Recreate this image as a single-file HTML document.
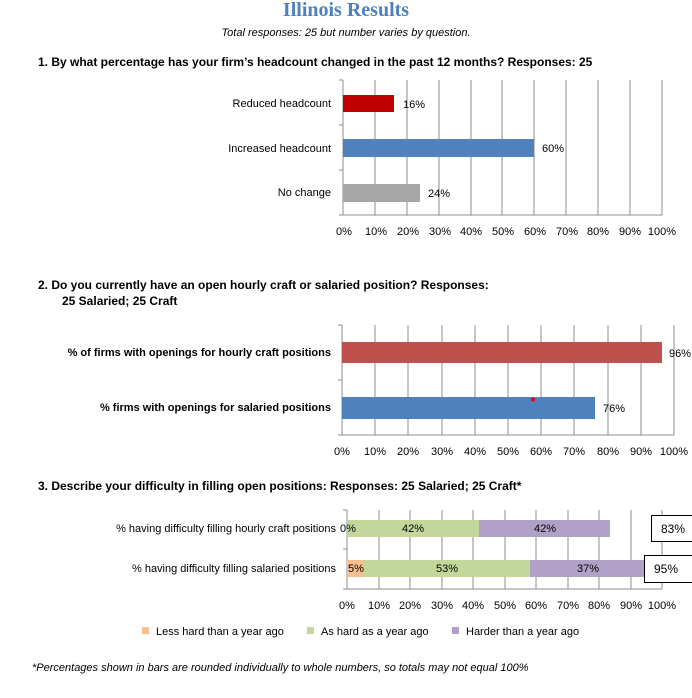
<!DOCTYPE html>
<html><head><meta charset="utf-8"><style>
body{margin:0;background:#fff;width:692px;height:698px;overflow:hidden}
svg{display:block}
text{font-family:"Liberation Sans",sans-serif;font-size:11px;fill:#000}
.b{font-weight:bold;font-size:12px}
.g{stroke:#8c8c8c;stroke-width:1}
</style></head><body>
<svg width="692" height="698" viewBox="0 0 692 698">
<text x="346" y="16" text-anchor="middle" style="font-family:'Liberation Serif',serif;font-size:20px;font-weight:bold;fill:#4f81bd">Illinois Results</text>
<text x="346" y="36" text-anchor="middle" style="font-style:italic;font-size:11px">Total responses: 25 but number varies by question.</text>

<!-- Chart 1 -->
<text x="38" y="66" class="b">1.   By what percentage has your firm’s headcount changed in the past 12 months? Responses: 25</text>
<g class="g">
<line x1="375" y1="80" x2="375" y2="215"/><line x1="407" y1="80" x2="407" y2="215"/><line x1="439" y1="80" x2="439" y2="215"/><line x1="471" y1="80" x2="471" y2="215"/><line x1="502" y1="80" x2="502" y2="215"/><line x1="534" y1="80" x2="534" y2="215"/><line x1="566" y1="80" x2="566" y2="215"/><line x1="598" y1="80" x2="598" y2="215"/><line x1="630" y1="80" x2="630" y2="215"/><line x1="662" y1="80" x2="662" y2="215"/>
<line x1="343" y1="80" x2="343" y2="215"/><line x1="343" y1="215" x2="662" y2="215"/>
<line x1="339" y1="80" x2="343" y2="80"/><line x1="339" y1="125" x2="343" y2="125"/><line x1="339" y1="170" x2="343" y2="170"/><line x1="339" y1="215" x2="343" y2="215"/>
</g>
<rect x="343" y="95" width="51" height="17" fill="#c00000"/>
<rect x="343" y="139" width="191" height="18" fill="#4f81bd"/>
<rect x="343" y="184" width="77" height="18" fill="#a6a6a6"/>
<text x="331" y="107" text-anchor="end">Reduced headcount</text>
<text x="331" y="152" text-anchor="end">Increased headcount</text>
<text x="331" y="196" text-anchor="end">No change</text>
<text x="403" y="108">16%</text><text x="542" y="152">60%</text><text x="428" y="197">24%</text>
<g text-anchor="middle">
<text x="344" y="235">0%</text><text x="376" y="235">10%</text><text x="408" y="235">20%</text><text x="440" y="235">30%</text><text x="471" y="235">40%</text><text x="503" y="235">50%</text><text x="535" y="235">60%</text><text x="567" y="235">70%</text><text x="598" y="235">80%</text><text x="630" y="235">90%</text><text x="662" y="235">100%</text>
</g>

<!-- Chart 2 -->
<text x="38" y="289" class="b">2.   Do you currently have an open hourly craft or salaried position?  Responses:</text>
<text x="62" y="305" class="b">25 Salaried; 25 Craft</text>
<g class="g">
<line x1="375" y1="325" x2="375" y2="435"/><line x1="408" y1="325" x2="408" y2="435"/><line x1="442" y1="325" x2="442" y2="435"/><line x1="475" y1="325" x2="475" y2="435"/><line x1="508" y1="325" x2="508" y2="435"/><line x1="541" y1="325" x2="541" y2="435"/><line x1="574" y1="325" x2="574" y2="435"/><line x1="608" y1="325" x2="608" y2="435"/><line x1="641" y1="325" x2="641" y2="435"/><line x1="674" y1="325" x2="674" y2="435"/>
<line x1="342" y1="325" x2="342" y2="435"/><line x1="342" y1="435" x2="674" y2="435"/>
<line x1="338" y1="325" x2="342" y2="325"/><line x1="338" y1="380" x2="342" y2="380"/><line x1="338" y1="435" x2="342" y2="435"/>
</g>
<rect x="342" y="342" width="320" height="21" fill="#c0504d"/>
<rect x="342" y="397" width="253" height="22" fill="#4f81bd"/>
<circle cx="533" cy="399.5" r="2" fill="#e00"/>
<text x="331" y="356" text-anchor="end" style="font-weight:bold">% of firms with openings for hourly craft positions</text>
<text x="331" y="411" text-anchor="end" style="font-weight:bold">% firms with openings for salaried positions</text>
<text x="669" y="357">96%</text><text x="603" y="412">76%</text>
<g text-anchor="middle">
<text x="342" y="455">0%</text><text x="375" y="455">10%</text><text x="408" y="455">20%</text><text x="442" y="455">30%</text><text x="475" y="455">40%</text><text x="508" y="455">50%</text><text x="541" y="455">60%</text><text x="574" y="455">70%</text><text x="608" y="455">80%</text><text x="641" y="455">90%</text><text x="674" y="455">100%</text>
</g>

<!-- Chart 3 -->
<text x="38" y="490" class="b">3.   Describe your difficulty in filling open positions: Responses: 25 Salaried; 25 Craft*</text>
<g class="g">
<line x1="379" y1="510" x2="379" y2="589"/><line x1="410" y1="510" x2="410" y2="589"/><line x1="442" y1="510" x2="442" y2="589"/><line x1="473" y1="510" x2="473" y2="589"/><line x1="505" y1="510" x2="505" y2="589"/><line x1="536" y1="510" x2="536" y2="589"/><line x1="568" y1="510" x2="568" y2="589"/><line x1="599" y1="510" x2="599" y2="589"/><line x1="631" y1="510" x2="631" y2="589"/><line x1="662" y1="510" x2="662" y2="589"/>
<line x1="347" y1="510" x2="347" y2="589"/><line x1="347" y1="589" x2="662" y2="589"/>
<line x1="343" y1="510" x2="347" y2="510"/><line x1="343" y1="549" x2="347" y2="549"/><line x1="343" y1="589" x2="347" y2="589"/>
</g>
<rect x="347" y="520" width="132" height="17" fill="#c4d79b"/>
<rect x="479" y="520" width="131" height="17" fill="#b1a0c7"/>
<rect x="347" y="560" width="17" height="17" fill="#fabf8f"/>
<rect x="364" y="560" width="166" height="17" fill="#c4d79b"/>
<rect x="530" y="560" width="116" height="17" fill="#b1a0c7"/>
<text x="336" y="532" text-anchor="end">% having difficulty filling hourly craft positions</text>
<text x="336" y="572" text-anchor="end">% having difficulty filling salaried positions</text>
<text x="340" y="532">0%</text><text x="413" y="532" text-anchor="middle">42%</text><text x="545" y="532" text-anchor="middle">42%</text>
<text x="348" y="572">5%</text><text x="447" y="572" text-anchor="middle">53%</text><text x="588" y="572" text-anchor="middle">37%</text>
<rect x="651.5" y="515.5" width="45" height="26" fill="#fff" stroke="#000"/>
<text x="661" y="533" style="font-size:12px">83%</text>
<rect x="644.5" y="555.5" width="52" height="27" fill="#fff" stroke="#000"/>
<text x="654" y="573" style="font-size:12px">95%</text>
<g text-anchor="middle">
<text x="347" y="609">0%</text><text x="379" y="609">10%</text><text x="410" y="609">20%</text><text x="442" y="609">30%</text><text x="473" y="609">40%</text><text x="505" y="609">50%</text><text x="536" y="609">60%</text><text x="568" y="609">70%</text><text x="599" y="609">80%</text><text x="631" y="609">90%</text><text x="662" y="609">100%</text>
</g>
<rect x="142" y="627" width="7" height="7" fill="#fabf8f"/><text x="156" y="635">Less hard than a year ago</text>
<rect x="307" y="627" width="7" height="7" fill="#c4d79b"/><text x="321" y="635">As hard as a year ago</text>
<rect x="452" y="627" width="7" height="7" fill="#b1a0c7"/><text x="466" y="635">Harder than a year ago</text>

<text x="32" y="671" style="font-style:italic">*Percentages shown in bars are rounded individually to whole numbers, so totals may not equal 100%</text>
</svg>
</body></html>
